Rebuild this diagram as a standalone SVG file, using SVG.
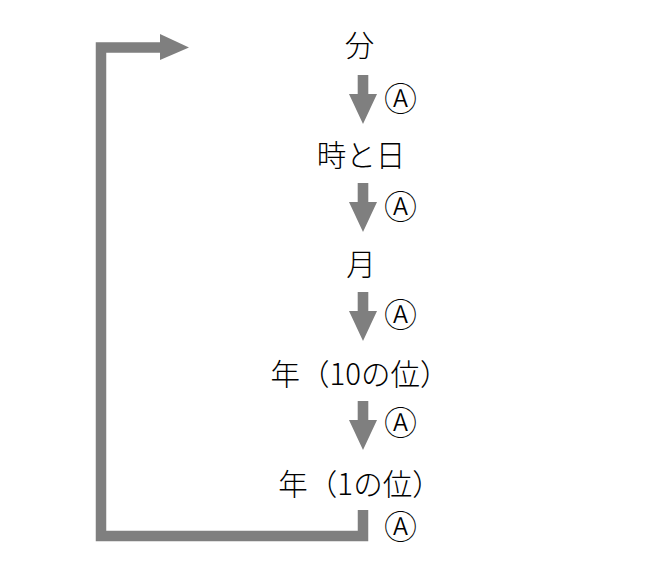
<svg xmlns="http://www.w3.org/2000/svg" width="667" height="587" viewBox="0 0 667 587">
<style>
.t{font-family:"Noto Sans CJK JP","Noto Sans",sans-serif;font-size:29.5px;font-weight:300;fill:#000;text-anchor:middle}
.a{font-family:"Noto Sans CJK JP","Noto Sans",sans-serif;font-size:33px;font-weight:300;fill:#000;text-anchor:middle}
.ln{fill:none;stroke:#7f7f7f;stroke-width:10.5}
.hd{fill:#7f7f7f}
</style>
<defs>
<g id="down"><rect x="-5.3" y="0" width="10.6" height="21" class="hd"/><polygon points="-14,19 14,19 0,49" class="hd"/></g>
</defs>
<rect width="667" height="587" fill="#fff"/>
<g id="connectors">
<use href="#down" x="363" y="75"/>
<use href="#down" x="363" y="183"/>
<use href="#down" x="363" y="292"/>
<use href="#down" x="363" y="401"/>
<polyline class="ln" points="363,510 363,536 101,536 101,47.5 165,47.5"/>
<polygon class="hd" points="160,34 189,47.5 160,60"/>
</g>
<g id="n1"><text class="t" x="359.5" y="56">分</text></g>
<g id="n2"><text class="t" x="361" y="166">時と日</text></g>
<g id="n3"><text class="t" x="361" y="275">月</text></g>
<g id="n4"><text class="t" x="360" y="385">年（10の位）</text></g>
<g id="n5"><text class="t" x="360" y="495">年（1の位）</text></g>
<g id="labels">
<text class="a" x="400.5" y="111">Ⓐ</text>
<text class="a" x="400.5" y="219">Ⓐ</text>
<text class="a" x="400.5" y="327">Ⓐ</text>
<text class="a" x="400.5" y="435">Ⓐ</text>
<text class="a" x="400.5" y="539">Ⓐ</text>
</g>
</svg>
